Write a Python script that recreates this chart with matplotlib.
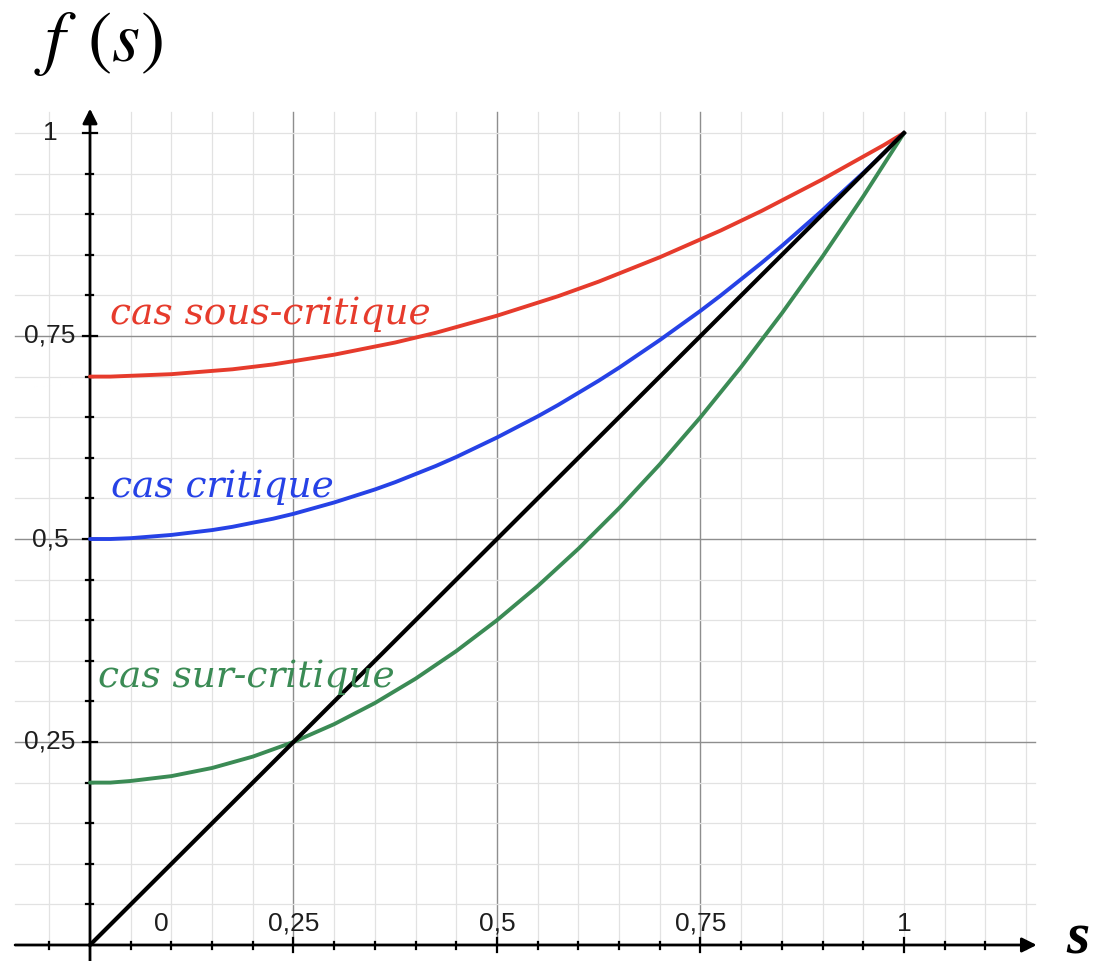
import numpy as np
import matplotlib
matplotlib.use("Agg")
import matplotlib.pyplot as plt

plt.rcParams["mathtext.fontset"] = "stix"

s_vals = [0.000, 0.025, 0.050, 0.075, 0.100, 0.125, 0.150, 0.175, 0.200, 0.225,
          0.250, 0.275, 0.300, 0.325, 0.350, 0.375, 0.400, 0.425, 0.450, 0.475,
          0.500, 0.525, 0.550, 0.575, 0.600, 0.625, 0.650, 0.675, 0.700, 0.725,
          0.750, 0.775, 0.800, 0.825, 0.850, 0.875, 0.900, 0.925, 0.950, 0.975, 1.000]
f_sous = [0.700, 0.700, 0.701, 0.702, 0.703, 0.705, 0.707, 0.709, 0.712, 0.715,
          0.719, 0.723, 0.727, 0.732, 0.737, 0.742, 0.748, 0.754, 0.761, 0.768,
          0.775, 0.783, 0.791, 0.799, 0.808, 0.817, 0.827, 0.837, 0.847, 0.858,
          0.869, 0.880, 0.892, 0.904, 0.917, 0.930, 0.943, 0.957, 0.971, 0.985, 1.000]
f_crit = [0.500, 0.500, 0.501, 0.503, 0.505, 0.508, 0.511, 0.515, 0.520, 0.525,
          0.531, 0.538, 0.545, 0.553, 0.561, 0.570, 0.580, 0.590, 0.601, 0.613,
          0.625, 0.638, 0.651, 0.665, 0.680, 0.695, 0.711, 0.728, 0.745, 0.763,
          0.781, 0.800, 0.820, 0.840, 0.861, 0.883, 0.905, 0.928, 0.951, 0.975, 1.000]
f_sur = [0.200, 0.200, 0.202, 0.205, 0.208, 0.213, 0.218, 0.225, 0.232, 0.241,
         0.250, 0.261, 0.272, 0.285, 0.298, 0.313, 0.328, 0.345, 0.362, 0.381,
         0.400, 0.421, 0.442, 0.465, 0.488, 0.513, 0.538, 0.565, 0.592, 0.621,
         0.650, 0.681, 0.712, 0.745, 0.778, 0.813, 0.848, 0.885, 0.922, 0.961, 1.000]
diag_s = [0.0, 1.0]
diag_f = [0.0, 1.0]

x_tick_pos = [0.088, 0.25, 0.5, 0.75, 1.0]
x_tick_labels = ["0", "0,25", "0,5", "0,75", "1"]
y_tick_pos = [0.25, 0.5, 0.75, 1.0]
y_tick_labels = ["0,25", "0,5", "0,75", "1"]

RED = "#e63b2c"
BLUE = "#2642e6"
GREEN = "#3b8b55"

fig = plt.figure(figsize=(11, 9.61), dpi=100)
ax = fig.add_axes([0, 0, 1, 1])
ax.set_xlim(-90 / 814, 1010 / 814)
ax.set_ylim(-16 / 812, 945 / 812)
ax.axis("off")

# grid
x0, x1 = -0.092, 1.161
ytop = 1.026
for v in np.arange(-0.05, 1.16, 0.05):
    v = round(v, 2)
    major = v in (0.25, 0.5, 0.75)
    ax.plot([v, v], [0, ytop], color="#8e8e8e" if major else "#e2e2e2",
            lw=1.0 if major else 0.9, zorder=1)
for v in np.arange(0.05, 1.01, 0.05):
    v = round(v, 2)
    major = v in (0.25, 0.5, 0.75)
    ax.plot([x0, x1], [v, v], color="#8e8e8e" if major else "#e2e2e2",
            lw=1.0 if major else 0.9, zorder=1)

# axes with arrows
ax.annotate("", xy=(1.163, 0), xytext=(x0, 0),
            arrowprops=dict(arrowstyle="-|>", lw=2.0, color="black",
                            mutation_scale=22, shrinkA=0, shrinkB=0), zorder=3)
ax.annotate("", xy=(0, 1.03), xytext=(0, -0.02),
            arrowprops=dict(arrowstyle="-|>", lw=2.0, color="black",
                            mutation_scale=22, shrinkA=0, shrinkB=0), zorder=3)

# tick marks
dx, dy = 1 / 814, 1 / 812
for v in np.arange(-0.05, 1.16, 0.05):
    v = round(v, 2)
    if v == 0:
        continue
    h = 7 if v in (0.25, 0.5, 0.75, 1.0) else 3.5
    ax.plot([v, v], [-h * dy, h * dy], color="black", lw=1.6, zorder=3)
for v in np.arange(0.05, 1.01, 0.05):
    v = round(v, 2)
    h = 7 if v in (0.25, 0.5, 0.75, 1.0) else 3.5
    ax.plot([-h * dx, h * dx], [v, v], color="black", lw=1.6, zorder=3)

# tick labels
for p, lab in zip(x_tick_pos, x_tick_labels):
    ax.text(p, 0.026, lab, ha="center", va="center", fontsize=19,
            family="Liberation Sans", color="#1e1e1e")
for p, lab in zip(y_tick_pos, y_tick_labels):
    ax.text(-0.049, p, lab, ha="center", va="center", fontsize=19,
            family="Liberation Sans", color="#1e1e1e")

# curves
ax.plot(s_vals, f_sous, color=RED, lw=2.8, zorder=4, solid_capstyle="round",
        solid_joinstyle="round")
ax.plot(s_vals, f_crit, color=BLUE, lw=2.8, zorder=4, solid_capstyle="round",
        solid_joinstyle="round")
ax.plot(s_vals, f_sur, color=GREEN, lw=2.8, zorder=4, solid_capstyle="round",
        solid_joinstyle="round")
ax.plot(diag_s, diag_f, color="black", lw=3.0, zorder=5)

# curve labels
lab_kw = dict(family="DejaVu Serif", style="italic", fontsize=27, ha="left",
              va="baseline", zorder=6)
ax.text(0.025, (945 - 324) / 812, "cas sous-critique", color=RED, **lab_kw)
ax.text(0.026, (945 - 497) / 812, "cas critique", color=BLUE, **lab_kw)
ax.text(0.010, (945 - 687) / 812, "cas sur-critique", color=GREEN, **lab_kw)

# axis titles
fig.text(98 / 1100, 1 - 44 / 961, r"$f\;\,(s)$", fontsize=52, ha="center", va="center")
fig.text(1078 / 1100, 1 - 954 / 961, "s", fontsize=43, family="Liberation Serif",
         style="italic", weight="bold", ha="center", va="baseline")

fig.savefig("out.png", dpi=100)
